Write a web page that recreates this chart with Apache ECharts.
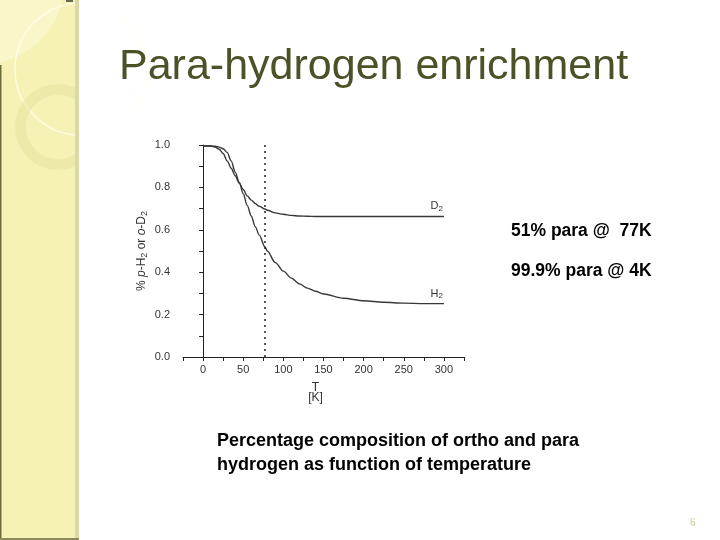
<!DOCTYPE html>
<html><head><meta charset="utf-8">
<script src="https://cdn.jsdelivr.net/npm/echarts@6/dist/echarts.min.js"></script>
<style>html,body{margin:0;padding:0;background:#fff}#c{width:720px;height:540px}</style>
</head><body><div id="c"></div>
<script>
// ---- data ----
const temps   = [0, 10, 15, 20, 25, 30, 35, 40, 45, 50, 55, 60, 65, 70, 77, 80, 90, 100, 110, 120, 130, 140, 150, 175, 200, 225, 250, 275, 300];
const h2Values = [0.995, 0.995, 0.994, 0.99, 0.982, 0.965, 0.925, 0.872, 0.825, 0.77, 0.715, 0.665, 0.615, 0.575, 0.52, 0.50, 0.445, 0.405, 0.372, 0.345, 0.325, 0.31, 0.297, 0.277, 0.265, 0.258, 0.254, 0.252, 0.252];
const d2Values = [0.995, 0.995, 0.99, 0.98, 0.96, 0.925, 0.89, 0.855, 0.82, 0.79, 0.76, 0.74, 0.724, 0.711, 0.698, 0.692, 0.68, 0.673, 0.668, 0.665, 0.664, 0.663, 0.663, 0.663, 0.663, 0.663, 0.663, 0.663, 0.663];
const xTickLabels = [0, 50, 100, 150, 200, 250, 300];
const yTickLabels = ['0.0', '0.2', '0.4', '0.6', '0.8', '1.0'];
const markerTemp = 77;
const labelTemp = 291;
const titleText = 'Para-hydrogen enrichment';
const noteLines = ['51% para @  77K', '99.9% para @ 4K'];
const captionText = 'Percentage composition of ortho and para\nhydrogen as function of temperature';
const pageNumber = '6';

const h2Data = temps.map((t, i) => [t, h2Values[i]]);
const d2Data = temps.map((t, i) => [t, d2Values[i]]);
const lineColor = '#383838';
const FF = 'Liberation Sans, Arial, Helvetica, sans-serif';

const chart = echarts.init(document.getElementById('c'), null, {renderer: 'canvas'});
const subRich = {
  n: {fontSize: 11, fontFamily: FF, color: '#333'},
  s: {fontSize: 8, fontFamily: FF, color: '#333', padding: [5, 0, 0, 0]}
};
chart.setOption({
  backgroundColor: '#ffffff',
  animation: false,
  graphic: [
    {type: 'rect', shape: {x: 0, y: 0, width: 78, height: 540}, style: {fill: '#f6f2b6'}, z: 0},
    {type: 'circle', shape: {cx: -20, cy: -20, r: 85}, style: {fill: 'rgba(252,250,225,0.45)'}, z: 0},
    {type: 'circle', shape: {cx: 81, cy: 69, r: 66}, style: {fill: 'none', stroke: 'rgba(255,255,240,0.75)', lineWidth: 1.5}, z: 0},
    {type: 'circle', shape: {cx: 58, cy: 127, r: 37.5}, style: {fill: 'none', stroke: 'rgba(225,222,150,0.4)', lineWidth: 11}, z: 0},
    {type: 'rect', shape: {x: 79, y: 0, width: 40, height: 540}, style: {fill: '#ffffff'}, z: 0},
    {type: 'rect', shape: {x: 75, y: 0, width: 4, height: 540}, style: {fill: '#dcd9a8'}, z: 0},
    {type: 'rect', shape: {x: 0, y: 65, width: 1.5, height: 475}, style: {fill: '#6e6e3c'}, z: 0},
    {type: 'rect', shape: {x: 0, y: 538, width: 79, height: 2}, style: {fill: '#8a8a5a'}, z: 0},
    {type: 'rect', shape: {x: 66, y: 0, width: 7, height: 2}, style: {fill: '#6a6a58'}, z: 0},
    {type: 'text', left: 119, top: 46, style: {text: titleText, font: '43px ' + FF, fill: '#4d5127'}, z: 1},
    {type: 'text', left: 511, top: 222, style: {text: noteLines[0], font: 'bold 17.5px ' + FF, fill: '#000'}, z: 1},
    {type: 'text', left: 511, top: 262, style: {text: noteLines[1], font: 'bold 17.5px ' + FF, fill: '#000'}, z: 1},
    {type: 'text', left: 217, top: 429, style: {text: captionText, font: 'bold 18px ' + FF, fill: '#000', lineHeight: 24}, z: 1},
    {type: 'text', left: 690, top: 518, style: {text: pageNumber, font: '10px ' + FF, fill: '#d2cf9c'}, z: 1}
  ],
  grid: {left: 183, right: 256, top: 145, bottom: 183},
  xAxis: {
    type: 'value', min: -25, max: 325, interval: 25,
    axisLine: {show: true, onZero: false, lineStyle: {color: '#222', width: 1}},
    axisTick: {show: true, length: 4, lineStyle: {color: '#222'}},
    splitLine: {show: false},
    axisLabel: {
      margin: 7, fontSize: 11, fontFamily: FF, color: '#333',
      formatter: v => xTickLabels.includes(v) ? String(v) : ''
    },
    name: 'T\n[K]', nameLocation: 'middle', nameGap: 26,
    nameTextStyle: {fontSize: 12, fontFamily: FF, color: '#333', lineHeight: 10, padding: [0, 16, 0, 0]}
  },
  yAxis: {
    type: 'value', min: 0, max: 1, interval: 0.2,
    axisLine: {show: true, lineStyle: {color: '#222', width: 1}},
    axisTick: {show: true, length: 4, lineStyle: {color: '#222'}},
    minorTick: {show: true, splitNumber: 2, length: 4, lineStyle: {color: '#222'}},
    splitLine: {show: false},
    axisLabel: {
      margin: 13, fontSize: 11, fontFamily: FF, color: '#333',
      formatter: v => yTickLabels[Math.round(v / 0.2)] || ''
    },
    name: '{n|% }{i|p}{n|-H}{s|2}{n| or }{i|o}{n|-D}{s|2}',
    nameLocation: 'middle', nameGap: 34,
    nameTextStyle: {rich: {
      n: {fontSize: 12, fontFamily: FF, color: '#333'},
      i: {fontSize: 12, fontFamily: FF, fontStyle: 'italic', color: '#333'},
      s: {fontSize: 9, fontFamily: FF, color: '#333', padding: [5, 0, 0, 0]}
    }}
  },
  series: [
    {
      type: 'line', name: 'H2', data: h2Data, showSymbol: false, smooth: 0.3, smoothMonotone: 'x',
      lineStyle: {color: lineColor, width: 1.4}, itemStyle: {color: lineColor},
      markLine: {
        silent: true, symbol: 'none', label: {show: false},
        lineStyle: {type: [2, 4], color: '#222', width: 1.5},
        data: [{xAxis: markerTemp}]
      },
      markPoint: {
        symbol: 'circle', symbolSize: 1, itemStyle: {color: 'rgba(0,0,0,0)'},
        label: {show: true, position: 'top', distance: 3, formatter: '{n|H}{s|2}', rich: subRich},
        data: [{coord: [labelTemp, h2Values[h2Values.length - 1]]}]
      }
    },
    {
      type: 'line', name: 'D2', data: d2Data, showSymbol: false, smooth: 0.3, smoothMonotone: 'x',
      lineStyle: {color: lineColor, width: 1.4}, itemStyle: {color: lineColor},
      markPoint: {
        symbol: 'circle', symbolSize: 1, itemStyle: {color: 'rgba(0,0,0,0)'},
        label: {show: true, position: 'top', distance: 3, formatter: '{n|D}{s|2}', rich: subRich},
        data: [{coord: [labelTemp, d2Values[d2Values.length - 1]]}]
      }
    }
  ]
});
</script></body></html>
